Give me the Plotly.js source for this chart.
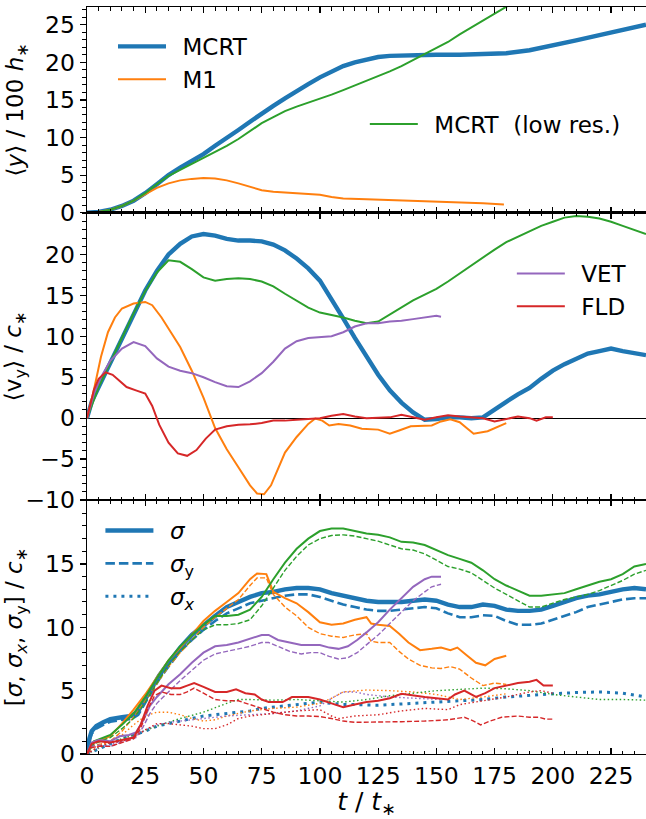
<!DOCTYPE html>
<html>
<head>
<meta charset="utf-8">
<script src="https://cdn.plot.ly/plotly-3.0.1.min.js"></script>
<style>html,body{margin:0;padding:0;background:#fff;}#plot{width:646px;height:819px;}</style>
</head>
<body>
<div id="plot"></div>
<script>
// ---------- Panel 1: <y>/100 h*
const p1_t_mcrt = [0,5,10,15,20,25,30,35,40,45,50,55,60,65,70,75,80,85,90,95,100,105,110,115,120,125,130,140,150,160,170,180,190,200,210,220,230,240];
const p1_y_mcrt = [0,0.1,0.4,0.9,1.6,2.6,3.8,5.0,6.0,6.9,7.8,8.9,9.9,11.0,12.1,13.2,14.2,15.2,16.2,17.1,18.0,18.8,19.5,20.0,20.4,20.7,20.85,20.95,21.0,21.0,21.05,21.2,21.6,22.2,22.9,23.6,24.3,25.0];
const p1_t_m1 = [0,5,10,15,20,25,30,35,40,45,50,55,60,65,70,75,80,85,90,95,100,105,110,120,130,140,150,160,170,179];
const p1_y_m1 = [0,0.1,0.4,0.9,1.6,2.5,3.3,3.9,4.3,4.5,4.6,4.55,4.3,3.9,3.4,3.0,2.8,2.7,2.65,2.6,2.4,2.1,1.9,1.8,1.7,1.6,1.5,1.4,1.25,1.1];
const p1_t_low = [0,5,10,15,20,25,30,35,40,45,50,55,60,65,70,75,80,85,90,95,100,105,110,115,120,125,130,135,140,145,150,155,160,165,170,175,180,185];
const p1_y_low = [0,0.1,0.4,0.9,1.6,2.6,3.8,4.9,5.7,6.5,7.2,8.0,8.9,9.8,10.9,11.9,12.7,13.5,14.1,14.6,15.1,15.7,16.3,16.9,17.5,18.1,18.8,19.5,20.3,21.0,21.8,22.7,23.7,24.6,25.5,26.4,27.3,28.3];

// ---------- Panel 2: <v_y>/c*
const p2_t_mcrt = [0,2,5,10,15,20,25,30,35,40,45,50,55,60,65,70,75,80,85,90,95,100,105,110,115,120,125,130,135,140,145,150,155,160,165,170,175,180,185,190,195,200,205,210,215,220,225,230,235,240];
const p2_v_mcrt = [0,2.0,3.8,6.8,9.8,12.8,15.6,18.0,20.0,21.3,22.2,22.5,22.3,21.9,21.7,21.7,21.6,21.2,20.5,19.5,18.3,16.8,14.6,12.2,9.8,7.5,5.3,3.4,1.9,0.7,-0.2,-0.1,0.1,0.1,0.0,0.1,1.1,2.0,2.9,3.7,4.8,5.8,6.6,7.3,7.9,8.2,8.5,8.2,8.0,7.7];
const p2_t_low = [0,5,10,15,20,25,30,35,40,45,50,55,60,65,70,75,80,85,90,95,100,105,110,115,120,125,130,135,140,145,150,155,160,165,170,175,180,185,190,195,200,205,210,215,220,225,230,235,240];
const p2_v_low = [0,3.8,6.8,9.8,12.8,15.5,17.8,19.3,19.1,18.2,17.2,16.8,17.0,17.1,17.0,16.7,16.1,15.2,14.3,13.5,12.9,12.6,12.3,11.9,11.6,11.8,12.7,13.6,14.4,15.1,15.8,16.7,17.7,18.7,19.6,20.6,21.5,22.2,22.9,23.5,24.0,24.5,24.7,24.6,24.4,24.0,23.5,23.0,22.5];
const p2_t_m1 = [0,3,6,9,12,15,20,25,28,32,36,40,45,50,55,60,65,70,73,76,79,82,85,90,95,98,101,104,108,113,118,125,130,134,139,148,152,156,160,163,166,172,176,180];
const p2_v_m1 = [0,3.5,7.5,10.5,12.3,13.4,14.0,14.2,13.8,12.3,10.5,8.7,5.8,2.5,-1.2,-3.8,-6.0,-8.2,-9.2,-9.3,-8.2,-6.2,-4.2,-2.3,-0.7,-0.05,-0.3,-0.9,-0.7,-0.9,-1.3,-1.4,-1.9,-1.5,-1.0,-0.9,-0.4,-0.15,-0.5,-1.2,-1.9,-1.6,-1.1,-0.6];
const p2_t_vet = [0,3,6,10,15,20,25,30,35,40,45,50,55,60,65,70,75,80,85,90,95,100,105,110,115,120,125,130,135,140,145,150,152];
const p2_v_vet = [0,3.0,5.0,7.0,8.5,9.3,8.8,7.3,6.3,5.8,5.5,5.0,4.4,3.9,3.8,4.5,5.5,6.9,8.5,9.4,9.8,9.9,10.0,10.5,11.2,11.6,11.6,11.8,11.9,12.1,12.3,12.5,12.4];
const p2_t_fld = [0,3,5,8,11,14,17,21,25,28,31,35,39,43,47,51,55,60,65,70,75,80,85,90,95,100,105,110,115,120,125,130,135,140,145,150,155,160,165,170,175,180,185,190,193,197,200];
const p2_v_fld = [0,3.5,4.8,5.6,5.3,4.6,3.8,3.4,3.0,1.5,-0.8,-3.0,-4.3,-4.6,-3.9,-2.5,-1.4,-1.0,-0.8,-0.75,-0.6,-0.3,-0.3,-0.2,-0.1,0.0,0.3,0.5,0.2,0.0,0.05,0.1,0.4,0.1,-0.2,0.1,0.35,0.2,0.1,0.0,-0.4,-0.1,0.2,0.0,-0.3,0.1,0.1];

// ---------- Panel 3: [sigma, sigma_x, sigma_y]/c*
const p3_t_mcrt = [0,1,2,4,7,10,15,19,22,25,28,31,35,40,45,50,55,60,65,70,75,80,85,90,95,100,105,110,115,120,125,130,135,140,145,150,155,160,165,170,175,180,185,190,195,200,205,210,215,220,225,230,235,240];
const p3_s_mcrt = [0,1.2,1.8,2.2,2.5,2.75,2.9,3.0,3.4,4.3,5.3,6.2,7.2,8.4,9.4,10.2,10.9,11.6,12.0,12.4,12.7,12.8,13.0,13.1,13.1,13.0,12.7,12.5,12.3,12.1,12.0,12.0,12.0,12.1,12.2,12.1,11.8,11.6,11.6,11.8,11.7,11.4,11.3,11.3,11.4,11.7,12.0,12.3,12.5,12.6,12.8,13.0,13.1,13.0];
const p3_sy_mcrt = [0,1.0,1.6,2.0,2.3,2.55,2.7,2.75,3.1,4.0,5.0,5.9,6.9,8.1,9.0,9.8,10.5,11.1,11.5,11.9,12.1,12.3,12.5,12.6,12.6,12.4,12.1,11.8,11.6,11.4,11.3,11.3,11.4,11.5,11.6,11.5,11.1,10.8,10.8,10.95,10.9,10.5,10.2,10.2,10.3,10.6,10.9,11.2,11.6,11.8,12.0,12.2,12.3,12.3];
const p3_tx_mcrt = [0,5,10,15,20,25,30,35,40,45,50,55,60,65,70,75,80,85,90,95,100,105,110,115,120,125,130,140,150,160,170,180,190,200,210,220,230,240];
const p3_sx_mcrt = [0,0.4,0.8,1.2,1.5,1.8,2.2,2.4,2.6,2.8,3.0,3.1,3.2,3.3,3.4,3.6,3.7,3.8,3.9,4.0,4.1,4.0,3.9,3.9,3.85,3.85,3.9,4.0,4.1,4.15,4.3,4.5,4.65,4.75,4.85,4.9,4.8,4.5];

const p3_t_low = [0,3,10,15,20,25,30,35,40,45,50,55,60,65,70,75,80,85,90,95,100,105,110,115,120,125,130,135,140,145,150,155,160,165,170,175,180,185,190,195,200,205,210,215,220,225,230,235,240];
const p3_s_low = [0,1.0,1.5,2.3,3.2,4.5,6.0,7.4,8.5,9.4,10.2,10.9,10.9,11.0,11.4,12.4,13.8,15.1,16.2,17.0,17.6,17.8,17.8,17.6,17.4,17.3,17.1,16.75,16.7,16.5,16.1,15.7,15.4,15.1,14.5,13.8,13.3,12.9,12.5,12.5,12.6,12.7,13.0,13.3,13.6,13.8,14.2,14.8,15.0];
const p3_sy_low = [0,0.8,1.3,2.0,2.8,4.1,5.6,7.0,8.1,9.0,9.8,10.2,10.2,10.3,10.6,11.7,13.1,14.5,15.6,16.5,17.0,17.25,17.3,17.2,17.0,16.8,16.5,16.2,16.1,15.8,15.3,14.8,14.6,14.3,13.7,13.1,12.6,12.1,11.6,11.6,11.9,12.2,12.4,12.6,12.9,13.3,13.7,14.2,14.5];
const p3_tx_low = [0,10,20,30,40,50,60,65,70,80,90,100,110,120,130,140,150,160,170,180,190,200,210,220,230,240];
const p3_sx_low = [0,0.9,1.5,2.2,2.8,3.3,4.0,4.3,4.3,4.25,4.3,4.2,4.1,4.3,4.6,4.8,5.0,5.1,5.2,5.15,5.0,4.7,4.5,4.3,4.3,4.25];

const p3_t_m1 = [0,3,6,10,15,20,25,30,35,40,45,50,55,60,65,70,73,77,80,85,90,95,100,105,110,115,120,122,125,130,134,138,143,148,152,156,159,163,167,171,175,180];
const p3_s_m1 = [0,1.0,1.1,1.4,2.4,3.5,4.7,6.1,7.4,8.4,9.4,10.5,11.3,12.0,12.7,13.8,14.25,14.2,12.8,12.3,11.9,11.2,10.4,10.2,10.3,10.6,10.8,10.3,10.2,10.1,9.5,8.8,8.2,8.3,8.4,8.2,8.4,7.8,7.2,7.0,7.5,7.75];
const p3_ty_m1 = [0,3,6,10,15,20,25,30,35,40,45,50,55,60,65,70,73,77,80,85,90,95,100,105,110,115,120,122,125,130,134,138,143,148,152,156,160,165,170,175,180];
const p3_sy_m1 = [0,0.7,0.8,1.0,1.8,2.9,4.2,5.6,6.9,8.0,9.0,10.0,10.8,11.5,12.2,13.3,13.9,13.9,12.6,11.6,10.9,10.0,9.5,9.3,9.2,9.4,9.5,8.9,8.8,8.8,8.1,7.5,7.0,6.8,6.75,6.9,6.7,6.0,5.4,5.6,5.5];
const p3_tx_m1 = [0,5,10,15,20,25,30,35,40,45,50,55,60,65,70,80,90,100,105,110,115,120,130,140,150,160,170,180];
const p3_sx_m1 = [0,0.6,1.0,1.5,2.3,3.0,3.3,3.3,3.1,2.8,2.6,2.7,3.0,3.2,3.4,3.6,3.7,4.0,4.4,4.9,5.0,5.05,5.0,4.9,4.7,4.3,4.5,4.75];

const p3_t_vet = [0,2,5,10,14,18,21,24,27,30,35,40,45,50,55,60,65,70,75,78,82,87,92,96,100,104,108,112,116,120,125,130,135,140,145,148,152];
const p3_s_vet = [0,0.9,1.1,1.0,1.4,1.5,1.7,2.6,3.8,4.5,5.5,6.3,7.2,8.0,8.5,8.6,8.8,9.1,9.4,9.4,9.0,8.8,8.6,8.6,8.6,8.4,8.3,8.5,9.0,9.6,10.4,11.4,12.3,13.2,13.8,14.0,14.0];
const p3_sy_vet = [0,0.6,0.7,0.6,0.9,1.1,1.3,2.1,3.2,4.0,4.9,5.8,6.6,7.4,7.9,8.1,8.3,8.5,8.8,8.8,8.5,8.1,7.9,8.0,8.0,7.7,7.5,7.6,8.0,8.6,9.4,10.3,11.2,12.1,12.8,13.2,13.4];
const p3_tx_vet = [0,5,10,15,20,25,30,35,40,45,50,60,70,80,90,100,105,110,115,120,130,140,150,152];
const p3_sx_vet = [0,0.5,0.8,1.0,1.4,1.9,2.3,2.5,2.6,2.7,2.8,3.0,3.1,3.2,3.4,3.8,4.4,4.9,4.9,4.7,4.5,4.4,4.3,4.3];

const p3_t_fld = [0,2,5,10,15,20,23,26,29,32,36,40,43,46,50,55,60,64,68,72,75,78,84,88,95,100,105,110,115,120,125,130,135,140,145,150,155,158,162,167,171,175,180,185,190,193,196,200];
const p3_s_fld = [0,0.8,1.0,0.9,1.1,1.3,2.3,3.8,5.0,5.4,5.2,5.2,5.4,5.6,5.3,4.9,4.9,5.1,4.8,4.7,4.3,4.1,4.1,4.5,4.5,4.3,4.0,3.7,3.9,4.1,4.2,4.4,4.75,4.6,4.5,4.4,4.3,4.7,5.0,4.5,4.8,5.2,5.4,5.6,5.7,5.85,5.4,5.4];
const p3_ty_fld = [0,2,5,10,15,20,23,26,29,32,36,40,43,46,50,55,60,65,70,75,80,85,90,95,100,105,110,115,125,135,145,155,162,166,169,173,178,185,190,194,197,200];
const p3_sy_fld = [0,0.5,0.6,0.6,0.9,1.2,2.0,3.5,4.6,4.9,4.7,4.7,4.9,5.2,4.8,4.3,4.2,4.2,3.9,3.6,3.3,3.1,3.0,3.0,2.95,2.8,2.6,2.5,2.5,2.55,2.6,2.7,2.9,2.6,2.3,2.6,2.9,3.0,2.9,2.9,2.75,2.75];
const p3_tx_fld = [0,5,10,15,20,25,30,35,40,45,50,55,60,65,70,80,90,100,105,108,115,125,135,145,155,160,170,180,190,195,200];
const p3_sx_fld = [0,0.6,0.9,1.0,1.3,1.9,2.4,2.4,2.3,2.2,2.0,2.0,2.3,2.8,3.0,3.2,3.4,3.5,3.0,2.8,3.0,3.1,3.4,3.6,3.5,3.9,4.2,4.5,4.9,5.0,4.8];

// ---------- Labels
const names_p1 = ['MCRT', 'M1', 'MCRT  (low res.)'];
const names_p2 = ['VET', 'FLD'];
const names_p3 = ['<i>σ</i>', '<i>σ</i><sub>y</sub>', '<i>σ</i><sub><i>x</i></sub>'];
const ytitle1 = '⟨<i>y</i>⟩ / 100 <i>h</i><sub>∗</sub>';
const ytitle2 = '⟨v<sub>y</sub>⟩ / <i>c</i><sub>∗</sub>';
const ytitle3 = '[<i>σ</i>, <i>σ</i><sub><i>x</i></sub>, <i>σ</i><sub>y</sub>] / <i>c</i><sub>∗</sub>';
const xtitle = '<i>t</i> / <i>t</i><sub>∗</sub>';

// ---------- Styles
const C = {blue:'#1f77b4', orange:'#ff7f0e', green:'#2ca02c', red:'#d62728', purple:'#9467bd'};
const SOLID = 2, THICK = 4.4;
const DASH_THIN = '5px,2.2px', DOT_THIN = '1.5px,2.5px';
const GAP = '\u2002';

function tr(x, y, xa, ya, color, width, dash, extra) {
  return Object.assign({
    type:'scatter', mode:'lines', x:x, y:y, xaxis:xa, yaxis:ya,
    line:{color:color, width:width, dash:dash || 'solid'},
    showlegend:false, hoverinfo:'skip'
  }, extra || {});
}
function leg(name, legendId, group) {
  return {name:GAP + name, showlegend:true, legend:legendId, legendgroup:group};
}

const traces = [
  // panel 1
  tr(p1_t_mcrt, p1_y_mcrt, 'x', 'y', C.blue, THICK, null, leg(names_p1[0], 'legend', 'a1')),
  tr(p1_t_m1, p1_y_m1, 'x', 'y', C.orange, SOLID, null, leg(names_p1[1], 'legend', 'a2')),
  tr(p1_t_low, p1_y_low, 'x', 'y', C.green, SOLID, null, leg(names_p1[2], 'legend2', 'a3')),
  // panel 2
  tr(p2_t_mcrt, p2_v_mcrt, 'x2', 'y2', C.blue, THICK),
  tr(p2_t_m1, p2_v_m1, 'x2', 'y2', C.orange, SOLID),
  tr(p2_t_low, p2_v_low, 'x2', 'y2', C.green, SOLID),
  tr(p2_t_vet, p2_v_vet, 'x2', 'y2', C.purple, SOLID, null, leg(names_p2[0], 'legend3', 'b1')),
  tr(p2_t_fld, p2_v_fld, 'x2', 'y2', C.red, SOLID, null, leg(names_p2[1], 'legend3', 'b2')),
  // panel 3
  tr(p3_t_mcrt, p3_s_mcrt, 'x3', 'y3', C.blue, THICK, null, leg(names_p3[0], 'legend4', 'c1')),
  tr(p3_t_mcrt, p3_sy_mcrt, 'x3', 'y3', C.blue, 2.6, '9.5px,4px', leg(names_p3[1], 'legend4', 'c2')),
  tr(p3_tx_mcrt, p3_sx_mcrt, 'x3', 'y3', C.blue, 3, '3px,5px', leg(names_p3[2], 'legend4', 'c3')),
  tr(p3_t_m1, p3_s_m1, 'x3', 'y3', C.orange, SOLID),
  tr(p3_ty_m1, p3_sy_m1, 'x3', 'y3', C.orange, 1.4, DASH_THIN),
  tr(p3_tx_m1, p3_sx_m1, 'x3', 'y3', C.orange, 1.4, DOT_THIN),
  tr(p3_t_low, p3_s_low, 'x3', 'y3', C.green, SOLID),
  tr(p3_t_low, p3_sy_low, 'x3', 'y3', C.green, 1.4, DASH_THIN),
  tr(p3_tx_low, p3_sx_low, 'x3', 'y3', C.green, 1.4, DOT_THIN),
  tr(p3_t_vet, p3_s_vet, 'x3', 'y3', C.purple, SOLID),
  tr(p3_t_vet, p3_sy_vet, 'x3', 'y3', C.purple, 1.4, DASH_THIN),
  tr(p3_tx_vet, p3_sx_vet, 'x3', 'y3', C.purple, 1.4, DOT_THIN),
  tr(p3_t_fld, p3_s_fld, 'x3', 'y3', C.red, SOLID),
  tr(p3_ty_fld, p3_sy_fld, 'x3', 'y3', C.red, 1.4, DASH_THIN),
  tr(p3_tx_fld, p3_sx_fld, 'x3', 'y3', C.red, 1.4, DOT_THIN)
];

const FONT = 'DejaVu Sans, Verdana, sans-serif';
const TICKF = {family:FONT, size:23.5, color:'#000'};

function xax(anchor, labels) {
  return {
    range:[0,240], anchor:anchor, showgrid:false, zeroline:false,
    showline:true, linecolor:'#000', linewidth:1.3, mirror:'ticks',
    ticks:'inside', ticklen:6, tickwidth:1.2, tickcolor:'#000',
    tickmode:'linear', tick0:0, dtick:25,
    minor:{ticks:'inside', ticklen:3.5, tickwidth:1, tickcolor:'#000', dtick:5, tick0:0, showgrid:false},
    showticklabels:labels, tickfont:TICKF
  };
}
function yax(anchor, dom, rng, vals, title, standoff) {
  return {
    domain:dom, range:rng, anchor:anchor, showgrid:false, zeroline:false,
    showline:true, linecolor:'#000', linewidth:1.3, mirror:false,
    ticks:'outside', ticklen:6, tickwidth:1.2, tickcolor:'#000',
    tickmode:'array', tickvals:vals,
    minor:{ticks:'outside', ticklen:3.5, tickwidth:1, tickcolor:'#000', tickmode:'linear', dtick:1, tick0:0, showgrid:false},
    tickfont:TICKF,
    title:{text:title, font:{family:FONT, size:23, color:'#000'}, standoff:standoff}
  };
}

const legBase = {font:{family:FONT, size:23, color:'#000'}, bgcolor:'rgba(0,0,0,0)', borderwidth:0, xanchor:'left', yanchor:'top', itemwidth:48, tracegroupgap:4, traceorder:'normal'};

const layout = {
  width:646, height:819,
  margin:{l:87, r:0, t:7, b:65},
  paper_bgcolor:'#fff', plot_bgcolor:'#fff',
  font:{family:FONT, size:21, color:'#000'},
  xaxis: xax('y', false),
  xaxis2: Object.assign(xax('y2', false), {matches:'x'}),
  xaxis3: Object.assign(xax('y3', true), {matches:'x', title:{text:xtitle, font:{family:FONT, size:25, color:'#000'}, standoff:6}}),
  yaxis: yax('x', [0.7246, 1], [0, 27.35], [0,5,10,15,20,25], ytitle1, 15),
  yaxis2: Object.assign(yax('x2', [0.34, 0.7246], [-10, 25.1], [-10,-5,0,5,10,15,20], ytitle2, 14), {zeroline:true, zerolinecolor:'#000', zerolinewidth:1}),
  yaxis3: yax('x3', [0, 0.34], [0, 20.05], [0,5,10,15], ytitle3, 16),
  legend: Object.assign({}, legBase, {x:0.0465, y:0.976}),
  legend2: Object.assign({}, legBase, {x:0.497, y:0.872}),
  legend3: Object.assign({}, legBase, {x:0.760, y:0.672}),
  legend4: Object.assign({}, legBase, {x:0.024, y:0.328}),
  showlegend:true
};

Plotly.newPlot('plot', traces, layout, {displayModeBar:false, staticPlot:true});
</script>
</body>
</html>
